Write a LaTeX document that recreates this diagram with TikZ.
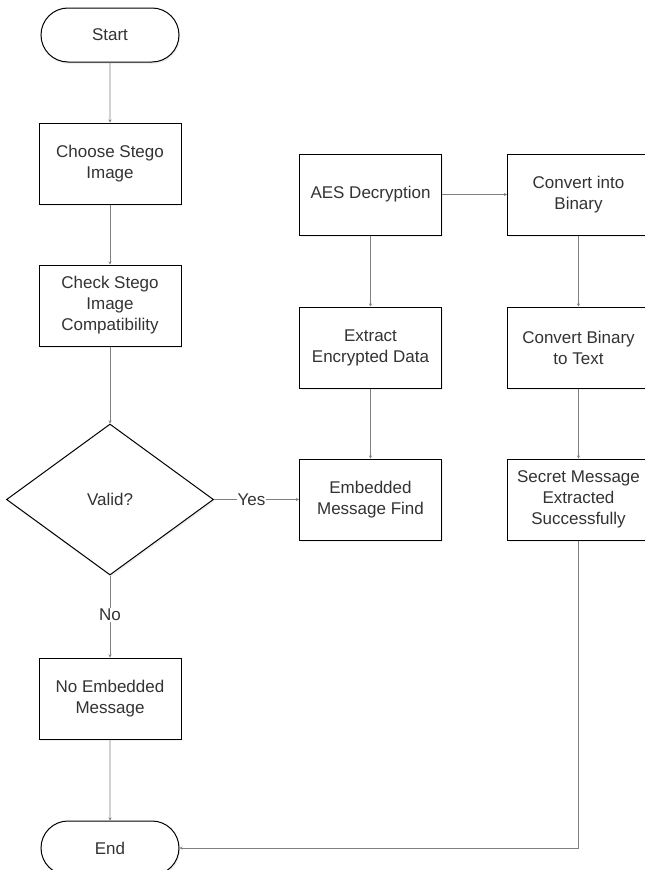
\documentclass[tikz,border=0pt]{standalone}
\usepackage{fontspec}
\setmainfont{Liberation Sans}
\usepackage{xcolor}
\usetikzlibrary{positioning, arrows.meta, shapes.geometric, shapes.misc, shadows}
\definecolor{LineGray}{HTML}{808080}
\definecolor{TextGray}{HTML}{333333}
\tikzset{
  box/.style={draw=black, align=center, text=TextGray,
              font=\fontsize{17}{21}\selectfont, line width=1pt,
              minimum width=142pt, minimum height=81pt, inner sep=2pt,
              fill=white, drop shadow={opacity=0.12, shadow xshift=1pt, shadow yshift=-2pt}},
  term/.style={box, rounded rectangle, minimum height=54pt},
  decide/.style={box, diamond, minimum width=207pt, minimum height=151pt, inner sep=0pt},
  arr/.style={-{Stealth[length=3pt, width=3pt]}, draw=LineGray, line width=0.9pt},
  lbl/.style={fill=white, text=TextGray, inner sep=1pt,
              font=\fontsize{17}{21}\selectfont}
}

\begin{document}
\begin{tikzpicture}[node distance=60pt and 65pt]
  \useasboundingbox (0,0) rectangle (645pt,-870pt);

  % ----- Left column: check the stego image -----
  \node[term] (start) at (110pt,-35pt) {Start};
  \node[box, below=of start] (choose) {Choose Stego\\Image};
  \node[box, below=of choose] (check) {Check Stego\\Image\\Compatibility};
  \node[decide, below=77pt of check] (valid) {Valid?};
  \node[box, below=82pt of valid] (noemb) {No Embedded\\Message};
  \node[term, below=81pt of noemb] (end) {End};

  % ----- Middle column -----
  \node[box, right=85pt of valid] (embed) {Embedded\\Message Find};
  \node[box, above=70pt of embed] (extract) {Extract\\Encrypted Data};
  \node[box, above=71pt of extract] (aes) {AES Decryption};

  % ----- Right column -----
  \node[box, right=of aes] (tobin) {Convert into\\Binary};
  \node[box, right=of extract] (totext) {Convert Binary\\to Text};
  \node[box, right=of embed] (secret) {Secret Message\\Extracted\\Successfully};

  % ----- Connectors -----
  \draw[arr] (start) -- (choose);
  \draw[arr] (choose) -- (check);
  \draw[arr] (check) -- (valid);
  \draw[arr] (valid) -- node[lbl, pos=0.44] {Yes} (embed);
  \draw[arr] (valid) -- node[lbl, pos=0.48] {No} (noemb);
  \draw[arr] (noemb) -- (end);

  \draw[arr] (aes) -- (extract);
  \draw[arr] (extract) -- (embed);
  \draw[arr] (aes) -- (tobin);
  \draw[arr] (tobin) -- (totext);
  \draw[arr] (totext) -- (secret);
  \draw[arr] (secret.south) |- (end.east);

\end{tikzpicture}
\end{document}
